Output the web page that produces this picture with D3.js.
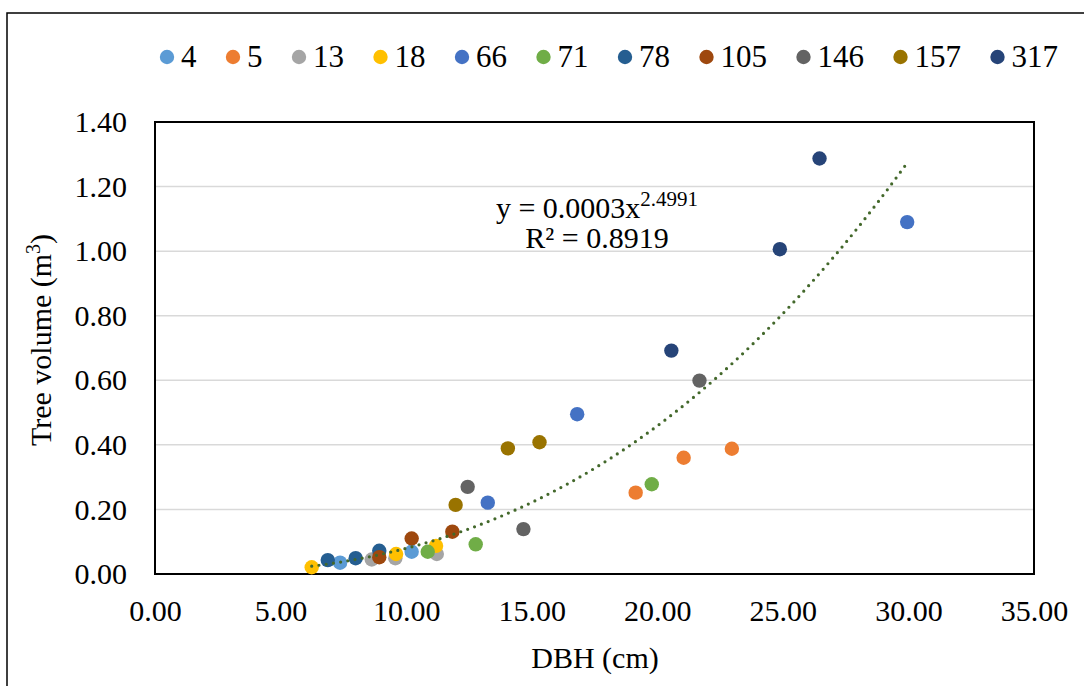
<!DOCTYPE html>
<html>
<head>
<meta charset="utf-8">
<script src="https://cdn.jsdelivr.net/npm/d3@7"></script>
<style>
  body { margin: 0; background: #ffffff; }
  svg text { font-family: "Liberation Serif", "Times New Roman", serif; fill: #000; }
</style>
</head>
<body>
<div id="plot"></div>
<script>
// series names (tree ids) and colours
var seriesNames = ["4", "5", "13", "18", "66", "71", "78", "105", "146", "157", "317"];
var seriesColors = ["#5B9BD5", "#ED7D31", "#A5A5A5", "#FFC000", "#4472C4", "#70AD47",
                    "#255E91", "#9E480E", "#636363", "#997300", "#264478"];

// DBH (cm) per series
var dbhValues = [
    [7.37, 10.22],
    [19.14, 21.05, 22.97],
    [8.63, 9.57, 11.22],
    [6.24, 9.60, 11.19],
    [13.25, 16.81, 29.95],
    [10.86, 12.77, 19.78],
    [6.88, 7.99, 8.93],
    [8.93, 10.22, 11.84],
    [12.45, 14.67, 21.68],
    [11.97, 14.05, 15.31],
    [20.56, 24.88, 26.46]
];

// tree volume (m3) per series
var volumeValues = [
    [0.035, 0.069],
    [0.252, 0.360, 0.388],
    [0.045, 0.049, 0.062],
    [0.021, 0.062, 0.087],
    [0.221, 0.495, 1.090],
    [0.069, 0.092, 0.278],
    [0.043, 0.049, 0.072],
    [0.052, 0.110, 0.131],
    [0.270, 0.139, 0.599],
    [0.214, 0.389, 0.408],
    [0.692, 1.006, 1.287]
];

var xTicks = [0, 5, 10, 15, 20, 25, 30, 35];
var yTicks = [0, 0.2, 0.4, 0.6, 0.8, 1.0, 1.2, 1.4];
var trendLabel1 = "y = 0.0003x";
var trendLabelExp = "2.4991";
var trendLabel2 = "R² = 0.8919";

function drawChart()
{
    var W = 1084, H = 686;
    var pLeft = 155, pRight = 1034, pTop = 122, pBottom = 574;

    var svg = d3.select("#plot").append("svg")
        .attr("width", W)
        .attr("height", H);

    // outer chart border
    svg.append("rect")
        .attr("x", 7).attr("y", 13)
        .attr("width", 1100).attr("height", 700)
        .style("fill", "none")
        .style("stroke", "#000")
        .style("stroke-width", 1.5);

    var x = d3.scaleLinear().domain([0, 35]).range([pLeft, pRight]);
    var y = d3.scaleLinear().domain([0, 1.4]).range([pBottom, pTop]);

    // gridlines
    svg.append("g")
        .selectAll("line")
        .data(yTicks.filter(function(d) { return d > 0 && d < 1.4; }))
        .enter().append("line")
        .attr("x1", pLeft).attr("x2", pRight)
        .attr("y1", function(d) { return y(d); })
        .attr("y2", function(d) { return y(d); })
        .style("stroke", "#D9D9D9")
        .style("stroke-width", 1.5);

    // axes (labels only, lines hidden)
    var yAxis = svg.append("g")
        .attr("transform", "translate(" + pLeft + ",0)")
        .call(d3.axisLeft(y).tickValues(yTicks).tickSize(0).tickPadding(28)
            .tickFormat(d3.format(".2f")));
    yAxis.select(".domain").remove();
    yAxis.selectAll("text")
        .style("font-size", "30px")
        .style("font-family", "'Liberation Serif', serif");

    var xAxis = svg.append("g")
        .attr("transform", "translate(0," + pBottom + ")")
        .call(d3.axisBottom(x).tickValues(xTicks).tickSize(0).tickPadding(26)
            .tickFormat(d3.format(".2f")));
    xAxis.select(".domain").remove();
    xAxis.selectAll("text")
        .style("font-size", "30px")
        .style("font-family", "'Liberation Serif', serif");

    // plot area border
    svg.append("rect")
        .attr("x", pLeft).attr("y", pTop)
        .attr("width", pRight - pLeft).attr("height", pBottom - pTop)
        .style("fill", "none")
        .style("stroke", "#000")
        .style("stroke-width", 2);

    // points
    var allPoints = [];
    seriesNames.forEach(function(name, i) {
        dbhValues[i].forEach(function(v, j) {
            allPoints.push({ s: i, x: v, y: volumeValues[i][j] });
        });
    });

    svg.append("g")
        .selectAll("circle")
        .data(allPoints)
        .enter().append("circle")
        .attr("cx", function(d) { return x(d.x); })
        .attr("cy", function(d) { return y(d.y); })
        .attr("r", 7.2)
        .style("fill", function(d) { return seriesColors[d.s]; });

    // power trendline, fitted on log values like Excel does
    var lx = allPoints.map(function(d) { return Math.log(d.x); });
    var ly = allPoints.map(function(d) { return Math.log(d.y); });
    var mx = d3.mean(lx), my = d3.mean(ly);
    var sxy = 0, sxx = 0;
    for (var k = 0; k < lx.length; k++) {
        sxy += (lx[k] - mx) * (ly[k] - my);
        sxx += (lx[k] - mx) * (lx[k] - mx);
    }
    var b = sxy / sxx;
    var a = Math.exp(my - b * mx);

    var xMin = d3.min(allPoints, function(d) { return d.x; });
    var xMax = d3.max(allPoints, function(d) { return d.x; });
    var trend = d3.range(0, 201).map(function(i) {
        var xv = xMin + (xMax - xMin) * i / 200;
        return [xv, a * Math.pow(xv, b)];
    });

    svg.append("path")
        .attr("d", d3.line()
            .x(function(d) { return x(d[0]); })
            .y(function(d) { return y(d[1]); })(trend))
        .style("fill", "none")
        .style("stroke", "#43682B")
        .style("stroke-width", 3.2)
        .style("stroke-linecap", "round")
        .style("stroke-dasharray", "0,7.3");

    // trendline equation
    var eq = svg.append("text")
        .attr("x", 597).attr("y", 218)
        .style("text-anchor", "middle")
        .style("font-size", "30px");
    eq.append("tspan").text(trendLabel1);
    eq.append("tspan").text(trendLabelExp)
        .attr("dy", -12)
        .style("font-size", "21px");

    svg.append("text")
        .attr("x", 597).attr("y", 248)
        .style("text-anchor", "middle")
        .style("font-size", "30px")
        .text(trendLabel2);

    // axis titles
    svg.append("text")
        .attr("x", 595).attr("y", 668)
        .style("text-anchor", "middle")
        .style("font-size", "30px")
        .text("DBH (cm)");

    var yt = svg.append("text")
        .attr("transform", "translate(51,340) rotate(-90)")
        .style("text-anchor", "middle")
        .style("font-size", "30px");
    yt.append("tspan").text("Tree volume (m");
    yt.append("tspan").text("3").attr("dy", -11).style("font-size", "20px");
    yt.append("tspan").text(")").attr("dy", 11);

    // legend
    var legend = svg.append("g");
    var lxPos = 167;
    seriesNames.forEach(function(name, i) {
        legend.append("circle")
            .attr("cx", lxPos).attr("cy", 57)
            .attr("r", 7.2)
            .style("fill", seriesColors[i]);
        var t = legend.append("text")
            .attr("x", lxPos + 14).attr("y", 67)
            .style("font-size", "31px")
            .text(name);
        lxPos += 14 + t.node().getComputedTextLength() + 36.5;
    });
}

drawChart();
</script>
</body>
</html>
